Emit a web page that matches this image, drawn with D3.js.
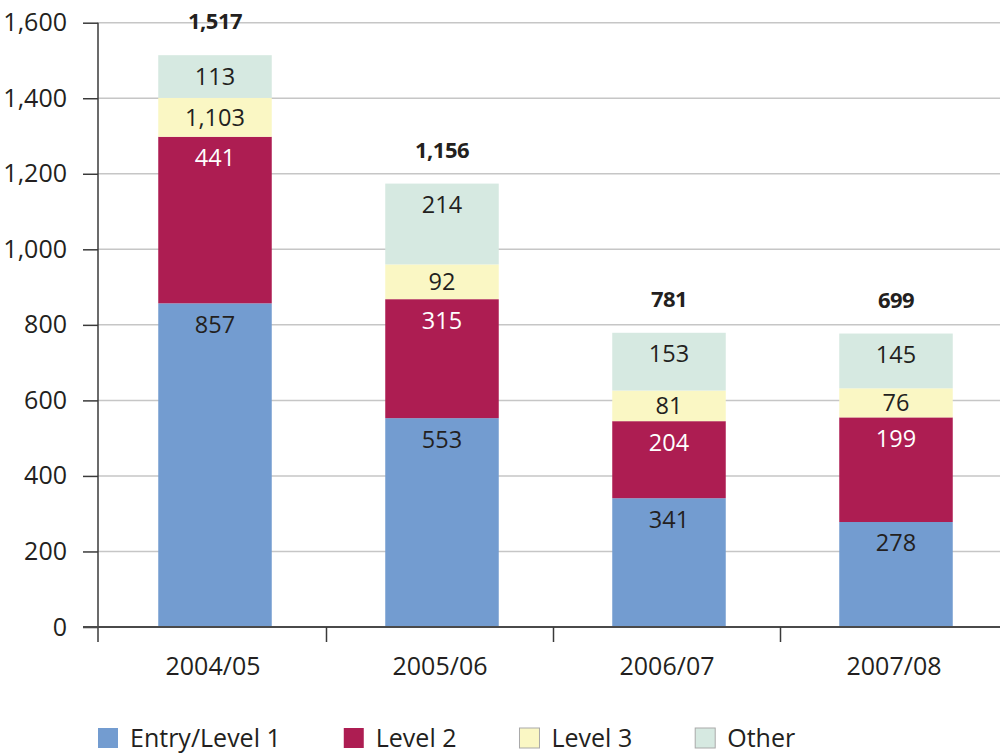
<!DOCTYPE html>
<html>
<head>
<meta charset="utf-8">
<script src="https://cdn.jsdelivr.net/npm/d3@7"></script>
<style>
  html, body { margin: 0; padding: 0; background: #fff; }
  svg { display: block; }
  text { font-family: "Open Sans", "Noto Sans", sans-serif; fill: #231f20; }
</style>
</head>
<body>
<svg id="chart" width="1000" height="755"></svg>
<script>
const categories = ["2004/05", "2005/06", "2006/07", "2007/08"];
const seriesNames = ["Entry/Level 1", "Level 2", "Level 3", "Other"];
const seriesKeys = ["entry", "level2", "level3", "other"];
// segment heights as drawn in the picture
const entry  = [857, 553, 341, 278];
const level2 = [441, 315, 204, 277];
const level3 = [103, 92, 81, 77];
const other  = [113, 214, 153, 145];
// labels as printed in the picture
const entryLabels  = ["857", "553", "341", "278"];
const level2Labels = ["441", "315", "204", "199"];
const level3Labels = ["1,103", "92", "81", "76"];
const otherLabels  = ["113", "214", "153", "145"];
const totalLabels  = ["1,517", "1,156", "781", "699"];
const yTicks = [0, 200, 400, 600, 800, 1000, 1200, 1400, 1600];
const colors = ["#739cd0", "#ad1d52", "#faf7c4", "#d6e9e1"];
const labelColors = ["#231f20", "#ffffff", "#231f20", "#231f20"];

const seriesValues = [entry, level2, level3, other];
const seriesLabels = [entryLabels, level2Labels, level3Labels, otherLabels];

const rows = categories.map((c, i) => {
  const r = { category: c };
  seriesKeys.forEach((k, j) => r[k] = seriesValues[j][i]);
  return r;
});

const svg = d3.select("#chart");
const axisX = 98, rightEdge = 1000, baseY = 627, topY = 22.7;

const y = d3.scaleLinear().domain([0, 1600]).range([baseY, topY]);
const x = d3.scaleBand().domain(categories).range([101.5, 1009.5]).paddingInner(0.5).paddingOuter(0.25);

// gridlines
svg.append("g").selectAll("line").data(yTicks.filter(d => d > 0)).join("line")
  .attr("x1", axisX).attr("x2", rightEdge)
  .attr("y1", d => y(d)).attr("y2", d => y(d))
  .attr("stroke", "#c6c6c6").attr("stroke-width", 1.5);

// stacked bars
const stack = d3.stack().keys(seriesKeys);
const stacked = stack(rows);

const gBars = svg.append("g");
stacked.forEach((layer, j) => {
  gBars.append("g").attr("fill", colors[j]).selectAll("rect").data(layer).join("rect")
    .attr("x", d => x(d.data.category))
    .attr("width", x.bandwidth())
    .attr("y", d => y(d[1]))
    .attr("height", d => y(d[0]) - y(d[1]));
});

// segment labels
stacked.forEach((layer, j) => {
  gBars.append("g").selectAll("text").data(layer).join("text")
    .attr("x", d => x(d.data.category) + x.bandwidth() / 2)
    .attr("y", d => {
      const top = y(d[1]), bot = y(d[0]);
      return Math.min((top + bot) / 2, top + 21);
    })
    .attr("dy", "0.36em")
    .attr("text-anchor", "middle")
    .attr("font-size", 23.5)
    .style("fill", labelColors[j])
    .text((d, i) => seriesLabels[j][i]);
});

// totals
const topLayer = stacked[stacked.length - 1];
svg.append("g").selectAll("text").data(topLayer).join("text")
  .attr("x", d => x(d.data.category) + x.bandwidth() / 2)
  .attr("y", d => y(d[1]) - 26)
  .attr("text-anchor", "middle")
  .attr("font-size", 22)
  .attr("font-weight", "bold")
  .attr("letter-spacing", "-0.5px")
  .text((d, i) => totalLabels[i]);

// y axis
const yAxis = d3.axisLeft(y).tickValues(yTicks).tickFormat(d3.format(",")).tickSize(15).tickPadding(16);
const gy = svg.append("g").attr("transform", `translate(${axisX},0)`).call(yAxis);
gy.select(".domain").remove();
gy.selectAll(".tick line").attr("stroke", "#3a3a3a").attr("stroke-width", 1.5);
gy.selectAll(".tick text").attr("font-size", 25).attr("font-family", null).style("fill", "#231f20");
svg.append("line").attr("x1", axisX).attr("x2", axisX).attr("y1", topY).attr("y2", baseY + 15)
  .attr("stroke", "#3a3a3a").attr("stroke-width", 1.5);

// x axis baseline
svg.append("line").attr("x1", axisX - 15).attr("x2", rightEdge).attr("y1", baseY).attr("y2", baseY)
  .attr("stroke", "#4a4a4a").attr("stroke-width", 2);

// category boundary ticks
const step = x.step();
svg.append("g").selectAll("line").data(categories.slice(1)).join("line")
  .attr("x1", d => x(d) - (step - x.bandwidth()) / 2 - 2)
  .attr("x2", d => x(d) - (step - x.bandwidth()) / 2 - 2)
  .attr("y1", baseY).attr("y2", baseY + 15)
  .attr("stroke", "#3a3a3a").attr("stroke-width", 1.5);

// category labels
svg.append("g").selectAll("text").data(categories).join("text")
  .attr("x", d => x(d) + x.bandwidth() / 2 - 2)
  .attr("y", baseY + 48)
  .attr("text-anchor", "middle")
  .attr("font-size", 25)
  .text(d => d);

// legend
const legend = svg.append("g");
let lx = 98;
seriesNames.forEach((name, j) => {
  const g = legend.append("g").attr("transform", `translate(${lx},0)`);
  g.append("rect").attr("x", 0).attr("y", 728).attr("width", 20).attr("height", 20)
    .attr("fill", colors[j])
    .attr("stroke", j >= 2 ? "#a9a9a9" : "none").attr("stroke-width", 1);
  const t = g.append("text").attr("x", 32).attr("y", 747).attr("font-size", 25).text(name);
  lx += 32 + t.node().getComputedTextLength() + 63;
});
</script>
</body>
</html>
